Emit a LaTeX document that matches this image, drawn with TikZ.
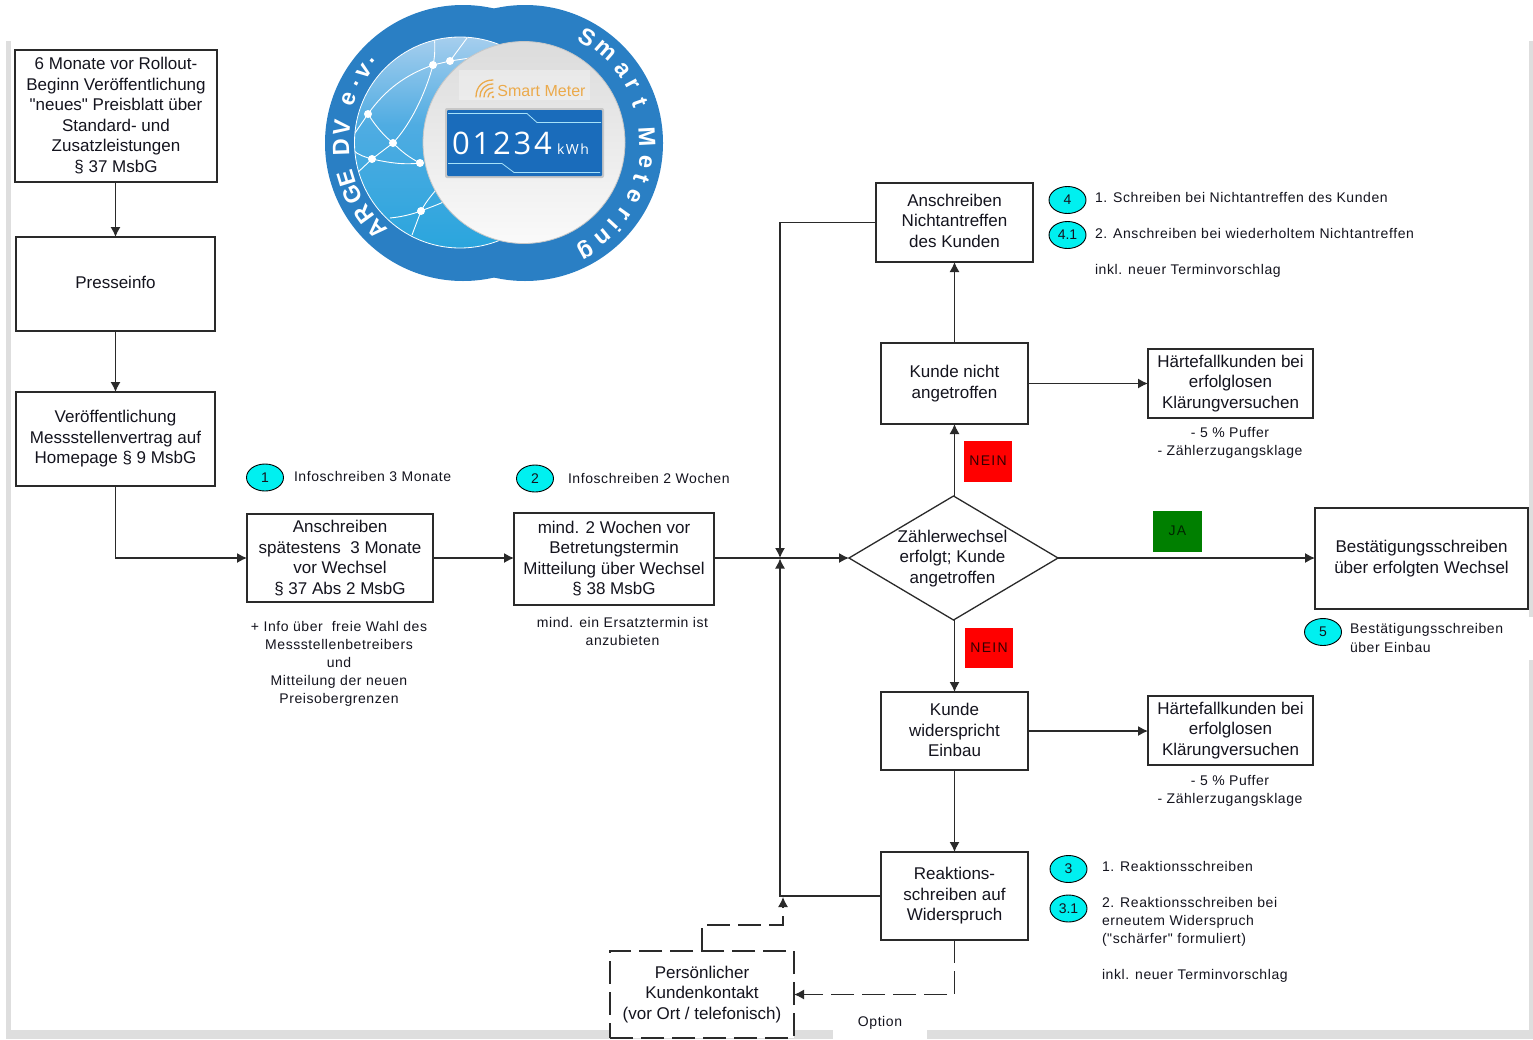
\documentclass[tikz,border=0pt]{standalone}
\usepackage{fontspec}
\setmainfont{Liberation Sans}
\newfontfamily\boxfont{Liberation Sans}
\newfontfamily\notefont[LetterSpace=4.1]{Liberation Sans}
\newfontfamily\tagfont[LetterSpace=9]{Liberation Sans}
\newfontfamily\logobold[LetterSpace=0]{Liberation Sans Bold}
\newfontfamily\digitfont[LetterSpace=9]{Open Sans}
\newfontfamily\kwhfont[LetterSpace=10]{Open Sans}
\usetikzlibrary{arrows.meta,shapes.geometric}
\definecolor{ink}{HTML}{14141E}
\definecolor{line}{HTML}{2A2A2A}
\definecolor{strip}{HTML}{DEDEDE}
\definecolor{logoblue}{HTML}{2A7FC4}
\definecolor{nettop}{HTML}{A8CFEE}
\definecolor{netmid}{HTML}{4FACE2}
\definecolor{netlow}{HTML}{2AA5DD}
\definecolor{dispdark}{HTML}{1A6CBB}
\definecolor{displight}{HTML}{3F82C2}
\definecolor{meterorange}{HTML}{EBAA4B}
\definecolor{cyanmark}{HTML}{00F0F0}
\definecolor{okgreen}{HTML}{007F00}
\tikzset{
 stepbox/.style={draw=line,line width=1.3pt,fill=white,align=center,inner sep=0pt,outer sep=0pt,text=ink,font=\fontsize{17}{20.5}\boxfont},
 textup/.style={execute at end node={\rule[-#1]{0pt}{#1}}},
 textdown/.style={execute at begin node={\rule{0pt}{#1}}},
 dashbox/.style={stepbox,dash pattern=on 23pt off 8pt},
 conn/.style={draw=line,line width=1.3pt},
 arrowline/.style={conn,-{Latex[length=10pt,width=10pt]}},
 dasharrow/.style={arrowline,dash pattern=on 23pt off 8pt},
 notetext/.style={inner sep=0pt,outer sep=0pt,text=ink,font=\fontsize{14}{18}\notefont},
 noteL/.style={notetext,anchor=west},
 noteC/.style={notetext,align=center},
 nummark/.style={ellipse,draw=black,line width=.9pt,fill=cyanmark,inner sep=0pt,minimum width=37pt,minimum height=27pt,text=ink,font=\fontsize{14}{14}\selectfont},
 logoletter/.style={inner sep=0pt,text=white,font=\fontsize{23.5}{23.5}\logobold},
 netline/.style={draw=white,line width=.9pt},
 netdot/.style={circle,fill=white,inner sep=0pt,minimum size=8pt},
 flagtag/.style={inner sep=0pt,font=\fontsize{14}{14}\tagfont},
}
\begin{document}
\begin{tikzpicture}[x=1pt,y=-1pt]
\useasboundingbox (0,0) rectangle (1533,1039);
\fill[white] (0,0) rectangle (1533,1039);
% page shadow strips
\fill[strip] (6,41) rectangle (11,1039);
\fill[strip] (6,1030) rectangle (1533,1039);
\fill[strip] (1529,41) rectangle (1533,617);
\fill[strip] (1529,660) rectangle (1533,1039);
\fill[white] (833,1028) rectangle (927,1039);
% logo
\fill[logoblue] (463,143) circle (138);
\fill[logoblue] (525,143) circle (138);
\begin{scope}
 \clip (460,142.5) circle (105.5);
 \shade[top color=nettop,bottom color=netmid] (350,35) rectangle (570,125);
 \shade[top color=netmid,bottom color=netlow] (350,125) rectangle (570,250);
 \path[netline] (433,65) .. controls (405,75) and (385,90) .. (368,114);
 \path[netline] (433,65) -- (450,61) -- (490,55);
 \path[netline] (433,65) .. controls (436,52) and (434,45) .. (435,35);
 \path[netline] (450,61) -- (467,38);
 \path[netline] (433,65) .. controls (425,95) and (410,125) .. (393,143) -- (372,159) -- (355,175);
 \path[netline] (368,114) .. controls (375,125) and (383,135) .. (393,143) .. controls (402,152) and (410,158) .. (420,163);
 \path[netline] (368,114) -- (355,133);
 \path[netline] (353,150) .. controls (358,155) and (365,157) .. (372,159) .. controls (390,163) and (405,165) .. (420,163);
 \path[netline] (390,218) .. controls (400,217) and (410,215) .. (421,211) .. controls (430,207) and (445,203) .. (455,195);
 \path[netline] (421,211) .. controls (427,200) and (432,195) .. (440,185);
 \path[netline] (421,211) -- (412,235);
 \node[netdot] at (433,65) {}; \node[netdot] at (450,61) {}; \node[netdot] at (368,114) {};
 \node[netdot] at (393,143) {}; \node[netdot] at (372,159) {}; \node[netdot] at (420,163) {}; \node[netdot] at (421,211) {};
\end{scope}
\draw[white,line width=.8pt] (460,142.5) circle (105.5);
\shade[top color=black!14,middle color=black!6,bottom color=black!2] (524,142.5) circle (101);
\fill[white,opacity=.3] (459,70) rectangle (590,100);
\draw[black!22,line width=.8pt] (524,142.5) circle (101);
\node[inner sep=0pt,text=meterorange,font=\fontsize{16}{16}\selectfont] at (541.5,91) {Smart Meter};
\foreach \r in {5,9,13,17} \draw[meterorange,line width=1.3pt,line cap=round] ({493-\r},{97}) .. controls ({493-\r},{97-.6*\r}) and ({493-.6*\r},{97-\r}) .. ({493},{97-\r});
\fill[meterorange] (493,97) circle (1.3);
\fill[black!22,rounded corners=2pt] (445,108) rectangle (604,178);
\shade[left color=dispdark,middle color=displight,right color=dispdark,rounded corners=1pt] (447,110) rectangle (602,176);
\draw[cyan!35!white,line width=.8pt] (448,113.5) -- (527,113.5) -- (537,122.5) -- (601,122.5);
\draw[cyan!35!white,line width=.8pt] (448,163.5) -- (502,163.5) -- (514,172.5) -- (600,172.5);
\node[inner sep=0pt,text=white,font=\fontsize{31}{31}\digitfont] at (502,143) {01234};
\node[inner sep=0pt,text=white,font=\fontsize{14}{14}\kwhfont] at (573,149) {kWh};
\foreach \ch/\a in {S/59.5,m/49,a/37,r/28.5,t/19.5,M/3,e/-9,t/-17,e/-26,r/-35.5,i/-42.5,n/-50.5,g/-60.7}
 \node[logoletter,rotate=\a-90] at ({525+122*cos(\a)},{143-122*sin(\a)}) {\ch};
\foreach \ch/\a in {A/225,R/216,G/205,E/197,D/182,V/173,e/159,./151,v/144,./138}
 \node[logoletter,rotate=\a-90] at ({463+122*cos(\a)},{143-122*sin(\a)}) {\ch};
% process boxes
\node[stepbox,textup=2pt,minimum width=202pt,minimum height=132pt] (rollout) at (116,116) {6 Monate vor Rollout-\\Beginn Veröffentlichung\\"neues" Preisblatt über\\Standard- und\\Zusatzleistungen\\§ 37 MsbG};
\node[stepbox,textup=4pt,minimum width=199pt,minimum height=94pt] (presse) at (115.5,284) {Presseinfo};
\node[stepbox,minimum width=199pt,minimum height=94pt] (veroeff) at (115.5,439) {Veröffentlichung\\Messstellenvertrag auf\\Homepage § 9 MsbG};
\node[stepbox,minimum width=186pt,minimum height=88pt] (anschr) at (340,558) {Anschreiben\\spätestens\ \ 3 Monate\\vor Wechsel\\§ 37 Abs 2 MsbG};
\node[stepbox,textup=2pt,minimum width=200pt,minimum height=92pt] (zwei) at (614,559) {mind. 2 Wochen vor\\Betretungstermin\\Mitteilung über Wechsel\\§ 38 MsbG};
\node[diamond,draw=line,line width=1.3pt,fill=white,inner sep=0pt,outer sep=0pt,aspect=1.69,minimum width=209pt,minimum height=124pt,
 label={[align=center,inner sep=0pt,text=ink,font=\fontsize{17}{20.5}\boxfont,xshift=-1pt,yshift=-.5pt]center:Zählerwechsel\\erfolgt; Kunde\\angetroffen}] (dec) at (953.5,558) {};
\node[stepbox,minimum width=213pt,minimum height=101pt] (best) at (1421.5,558.5) {Bestätigungsschreiben\\über erfolgten Wechsel};
\node[stepbox,textup=4pt,minimum width=157pt,minimum height=79pt] (nicht) at (954.5,222.5) {Anschreiben\\Nichtantreffen\\des Kunden};
\node[stepbox,minimum width=147pt,minimum height=81pt] (kunde) at (954.5,383.5) {Kunde nicht\\angetroffen};
\node[stepbox,minimum width=165pt,minimum height=69pt] (hart1) at (1230.5,383.5) {Härtefallkunden bei\\erfolglosen\\Klärungversuchen};
\node[stepbox,textup=2pt,minimum width=147pt,minimum height=78pt] (wider) at (954.5,731) {Kunde\\widerspricht\\Einbau};
\node[stepbox,minimum width=165pt,minimum height=69pt] (hart2) at (1230.5,730.5) {Härtefallkunden bei\\erfolglosen\\Klärungversuchen};
\node[stepbox,textdown=15.5pt,minimum width=147pt,minimum height=88pt] (reakt) at (954.5,896) {Reaktions-\\schreiben auf\\Widerspruch};
\node[dashbox,minimum width=184pt,minimum height=87pt] (pers) at (702,994.5) {Persönlicher\\Kundenkontakt\\(vor Ort / telefonisch)};
% coloured tags
\node[flagtag,fill=red,minimum width=48pt,minimum height=41pt,text=black!80!red] (nein1) at (988,461) {NEIN};
\node[flagtag,fill=red,minimum width=48pt,minimum height=40pt,text=black!80!red] (nein2) at (989,647.5) {NEIN};
\node[flagtag,fill=okgreen,minimum width=49pt,minimum height=41pt,text=black!70!okgreen] (ja) at (1177.5,531.5) {\raisebox{2pt}{JA}};
% connectors
\coordinate (join) at (780,558);
\coordinate (joinA) at (780,558.5);
\coordinate (option) at (783,897);
\draw[arrowline] (rollout.south -| presse.north) -- (presse.north);
\draw[arrowline] (presse) -- (veroeff);
\draw[arrowline] (veroeff.south) |- (anschr.west);
\draw[arrowline] (anschr.east) -- (anschr.east -| zwei.west);
\draw[conn] (zwei.east |- join) -- (join);
\draw[arrowline] (join) -- (dec.west);
\draw[arrowline] (nicht.west) -| (join);
\draw[arrowline] (reakt.west) -| (joinA);
\draw[arrowline] (dec.north -| kunde.south) -- (kunde.south);
\draw[arrowline] (kunde) -- (nicht);
\draw[arrowline] (kunde) -- (hart1);
\draw[arrowline] (dec.east) -- (dec.east -| best.west);
\draw[arrowline] (dec.south -| wider.north) -- (wider.north);
\draw[arrowline] (wider.east) -- (wider.east -| hart2.west);
\draw[arrowline] (wider) -- (reakt);
\draw[dasharrow] (reakt.south) |- (pers.east);
\draw[dasharrow] (pers.north) -- ++(0,-26) -| (option);
% numbered marks
\node[nummark] (m1) at (265,477.5) {1};
\node[nummark] (m2) at (535,478.5) {2};
\node[nummark] (m4) at (1067.5,200) {4};
\node[nummark] (m41) at (1067.5,235) {4.1};
\node[nummark] (m3) at (1068.5,869) {3};
\node[nummark] (m31) at (1068.5,908.5) {3.1};
\node[nummark] (m5) at (1323,632) {5};
% notes
\node[noteL] (n1) at (294,476.5) {Infoschreiben 3 Monate};
\node[noteL] (n2) at (568,478) {Infoschreiben 2 Wochen};
\node[noteC] (n3) at (339,664) {+ Info über\ \ freie Wahl des\\Messstellenbetreibers\\und\\Mitteilung der neuen\\Preisobergrenzen};
\node[noteC] (n4) at (622.5,631) {mind. ein Ersatztermin ist\\anzubieten};
\node[noteL] (n5) at (1095,197.5) {1. Schreiben bei Nichtantreffen des Kunden};
\node[noteL] (n6) at (1095,233.5) {2. Anschreiben bei wiederholtem Nichtantreffen};
\node[noteL] (n7) at (1095,270.5) {inkl. neuer Terminvorschlag};
\node[noteC] (n8) at (1230,442.5) {- 5 \% Puffer\\- Zählerzugangsklage};
\node[noteC] (n9) at (1230,790.5) {- 5 \% Puffer\\- Zählerzugangsklage};
\node[noteL] (n10) at (1102,866.5) {1. Reaktionsschreiben};
\node[noteL,align=left,anchor=north west] (n11) at (1102,897) {2. Reaktionsschreiben bei\\erneutem Widerspruch\\("schärfer" formuliert)};
\node[noteL] (n12) at (1102,975.5) {inkl. neuer Terminvorschlag};
\node[noteL,align=left,anchor=north west] (n13) at (1350,623) {Bestätigungsschreiben\\[1pt]über Einbau};
\node[noteC] (n14) at (880,1023) {Option};
\end{tikzpicture}
\end{document}
